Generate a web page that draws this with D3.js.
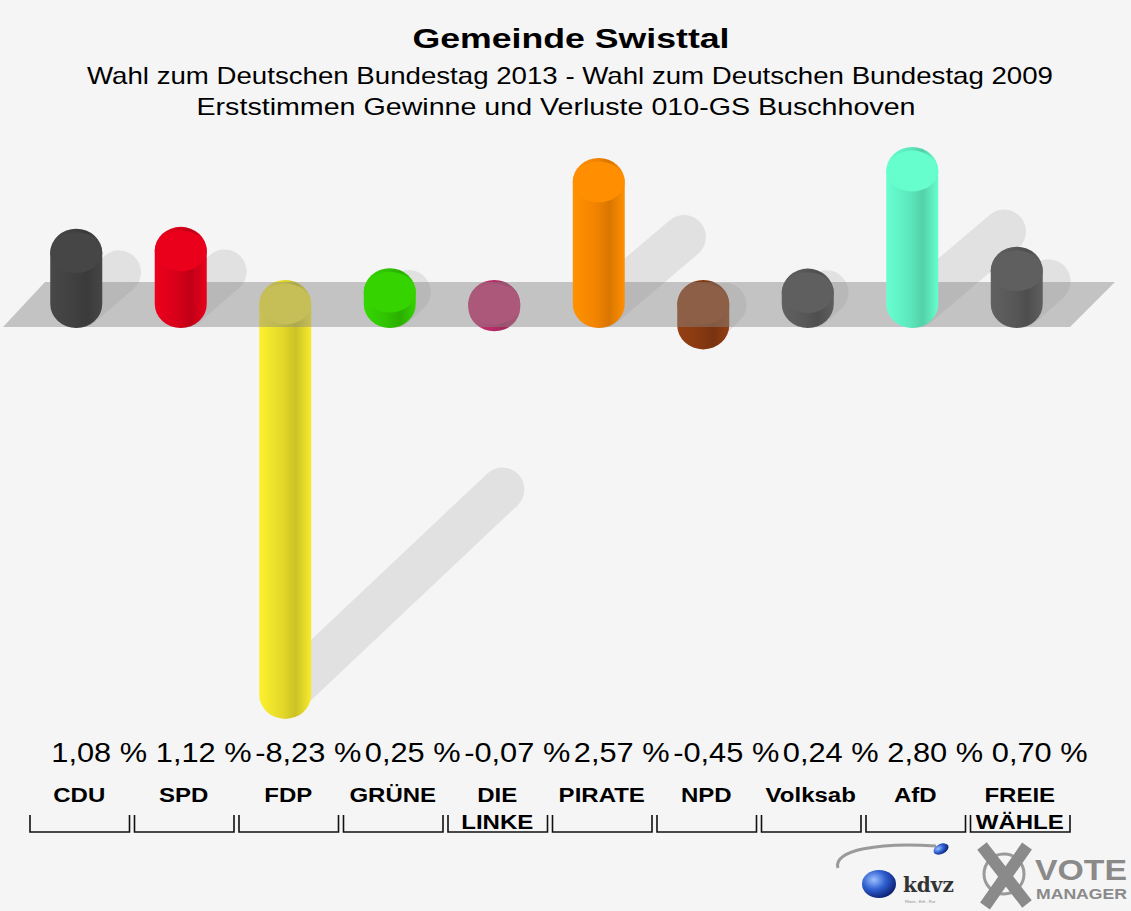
<!DOCTYPE html>
<html>
<head>
    <meta charset="utf-8">
    <title>Gemeinde Swisttal</title>
    <script src="https://d3js.org/d3.v7.min.js"></script>
    <style>
        body { margin: 0; background: #f5f5f5; }
        svg { display: block; font-family: "Liberation Sans", Arial, sans-serif; }
        .title { font-size: 28px; font-weight: bold; }
        .subtitle { font-size: 24px; }
        .value { font-size: 27px; }
        .cat { font-size: 20px; font-weight: bold; }
    </style>
</head>
<body>
    <svg width="1131" height="911"></svg>
    <script>
        // data
        var categories = ["CDU", "SPD", "FDP", "GRÜNE", "DIE LINKE", "PIRATE", "NPD", "Volksab", "AfD", "FREIE WÄHLE"];
        var labelLines = [["CDU"], ["SPD"], ["FDP"], ["GRÜNE"], ["DIE", "LINKE"], ["PIRATE"], ["NPD"], ["Volksab"], ["AfD"], ["FREIE", "WÄHLE"]];
        var values = [1.08, 1.12, -8.23, 0.25, -0.07, 2.57, -0.45, 0.24, 2.80, 0.70];
        var colors = ["#444444", "#e2001a", "#f0e42c", "#33cc00", "#c2306c", "#ff8a00", "#8e3c12", "#5c5c5c", "#62f5c6", "#5c5c5c"];

        var svg = d3.select("svg");
        var defs = svg.append("defs");

        svg.append("rect").attr("width", 1131).attr("height", 911).attr("fill", "#f5f5f5");

        // stretch text horizontally, the reference glyphs are wider than Arial
        function widen(sel, f) {
            sel.each(function() {
                var w = this.getComputedTextLength();
                d3.select(this).attr("textLength", w * f).attr("lengthAdjust", "spacingAndGlyphs");
            });
        }

        // titles
        svg.append("text").attr("class", "title").attr("x", 571).attr("y", 48)
            .attr("text-anchor", "middle").attr("textLength", 317).attr("lengthAdjust", "spacingAndGlyphs")
            .text("Gemeinde Swisttal");
        svg.append("text").attr("class", "subtitle").attr("x", 570).attr("y", 84)
            .attr("text-anchor", "middle").attr("textLength", 966).attr("lengthAdjust", "spacingAndGlyphs")
            .text("Wahl zum Deutschen Bundestag 2013 - Wahl zum Deutschen Bundestag 2009");
        svg.append("text").attr("class", "subtitle").attr("x", 556).attr("y", 115)
            .attr("text-anchor", "middle").attr("textLength", 719).attr("lengthAdjust", "spacingAndGlyphs")
            .text("Erststimmen Gewinne und Verluste 010-GS Buschhoven");

        var x = d3.scaleBand().domain(categories).range([27, 1072]).paddingInner(0);
        var y = d3.scaleLinear().domain([0, 1]).range([304, 256.5]);
        var rx = 26, ry = 24;
        var data = categories.map(function(c, i) {
            return {cat: c, value: values[i], color: colors[i], lines: labelLines[i], i: i};
        });
        function cx(d) { return x(d.cat) + x.bandwidth() / 2 - 3; }

        // gradients per bar
        data.forEach(function(d) {
            var c = d3.color(d.color);
            var g = defs.append("linearGradient").attr("id", "grad" + d.i)
                .attr("x1", "0%").attr("x2", "100%").attr("y1", "0%").attr("y2", "0%");
            g.append("stop").attr("offset", "0%").attr("stop-color", c.brighter(0.15));
            g.append("stop").attr("offset", "45%").attr("stop-color", c.darker(0.15));
            g.append("stop").attr("offset", "70%").attr("stop-color", c.darker(0.45));
            g.append("stop").attr("offset", "100%").attr("stop-color", c.brighter(0.1));
        });

        // shadows
        var shadow = svg.append("g").attr("fill", "none").attr("stroke", "#000")
            .attr("stroke-opacity", 0.08).attr("stroke-width", 44).attr("stroke-linecap", "round");
        data.forEach(function(d) {
            var h = Math.abs(y(d.value) - y(0));
            if (d.value > 0) {
                shadow.append("line")
                    .attr("x1", cx(d) + 4).attr("y1", y(0) + 2)
                    .attr("x2", cx(d) + 12 + h * 0.6).attr("y2", y(0) - 6 - h * 0.5);
            } else if (h > 10) {
                var yb = y(d.value);
                shadow.append("line")
                    .attr("x1", cx(d) + 10).attr("y1", yb - 10)
                    .attr("x2", cx(d) + 10 + h * 0.53).attr("y2", yb - 10 - h * 0.5);
            }
        });

        function drawBar(g, d) {
            var top = y(Math.max(d.value, 0)), bot = y(Math.min(d.value, 0));
            var c = cx(d);
            var path = "M" + (c - rx) + "," + top +
                " A" + rx + "," + ry + " 0 0 1 " + (c + rx) + "," + top +
                " L" + (c + rx) + "," + bot +
                " A" + rx + "," + ry + " 0 0 1 " + (c - rx) + "," + bot + " Z";
            g.append("path").attr("d", path).attr("fill", "url(#grad" + d.i + ")");
            g.append("ellipse").attr("cx", c).attr("cy", top).attr("rx", rx).attr("ry", ry * 0.85)
                .attr("fill", d3.color(d.color).brighter(0.1));
        }

        // negative bars behind the plane
        var back = svg.append("g");
        data.filter(function(d) { return d.value < 0; }).forEach(function(d) { drawBar(back, d); });

        // plane
        svg.append("path")
            .attr("d", "M45,282 L1115,282 L1070,327 L3,327 Z")
            .attr("fill", "#888").attr("fill-opacity", 0.45);

        var front = svg.append("g");
        data.filter(function(d) { return d.value >= 0; }).forEach(function(d) { drawBar(front, d); });

        // value labels
        svg.append("g").selectAll("text").data(data).enter().append("text")
            .attr("class", "value")
            .attr("x", function(d) { return cx(d) + 23; })
            .attr("y", 762)
            .attr("text-anchor", "middle")
            .text(function(d) { return d.value.toFixed(2).replace(".", ",") + " %"; })
            .call(widen, 1.14);

        // category labels
        var cat = svg.append("g").selectAll("g").data(data).enter().append("g");
        cat.append("text").attr("class", "cat")
            .attr("x", function(d) { return x(d.cat) + x.bandwidth() / 2; })
            .attr("y", 802)
            .attr("text-anchor", "middle")
            .selectAll("tspan").data(function(d) { return d.lines; }).enter().append("tspan")
            .attr("x", function() { var p = d3.select(this.parentNode).datum(); return x(p.cat) + x.bandwidth() / 2; })
            .attr("dy", function(l, j) { return j === 0 ? 0 : 27; })
            .text(function(l) { return l; })
            .call(widen, 1.2);

        // brackets
        cat.append("path")
            .attr("fill", "none").attr("stroke", "#111").attr("stroke-width", 1.6)
            .attr("d", function(d) {
                var l = x(d.cat) + 3, r = x(d.cat) + x.bandwidth() - 2;
                return "M" + l + ",815 L" + l + ",832 L" + r + ",832 L" + r + ",815";
            });

        // logos
        var logo = svg.append("g");
        var bg = defs.append("radialGradient").attr("id", "sphere").attr("cx", "35%").attr("cy", "35%").attr("r", "70%");
        bg.append("stop").attr("offset", "0%").attr("stop-color", "#9ec0ff");
        bg.append("stop").attr("offset", "50%").attr("stop-color", "#2f5fd0");
        bg.append("stop").attr("offset", "100%").attr("stop-color", "#0b1f70");
        logo.append("path").attr("d", "M838,868 C832,850 880,842 936,846")
            .attr("fill", "none").attr("stroke", "#9a9a9a").attr("stroke-width", 3);
        logo.append("ellipse").attr("cx", 941).attr("cy", 849).attr("rx", 8).attr("ry", 5)
            .attr("fill", "url(#sphere)").attr("transform", "rotate(-25,941,849)");
        logo.append("ellipse").attr("cx", 879).attr("cy", 884).attr("rx", 17).attr("ry", 14)
            .attr("fill", "url(#sphere)");
        logo.append("text").attr("x", 903).attr("y", 892).attr("font-family", "DejaVu Serif, serif")
            .attr("font-weight", "bold").attr("font-size", 20).attr("fill", "#333").text("kdvz");
        logo.append("text").attr("x", 905).attr("y", 903).attr("font-size", 4).attr("fill", "#888")
            .text("Rhein - Erft - Rur");
        logo.append("circle").attr("cx", 1004).attr("cy", 874).attr("r", 20)
            .attr("fill", "none").attr("stroke", "#9a9a9a").attr("stroke-width", 3);
        logo.append("path").attr("d", "M982,846 L1027,904 M1027,846 L985,906")
            .attr("stroke", "#8a8a8a").attr("stroke-width", 12).attr("stroke-linecap", "butt");
        logo.append("text").attr("x", 1035).attr("y", 880).attr("font-weight", "bold")
            .attr("font-size", 30).attr("fill", "#8a8a8a").attr("textLength", 92)
            .attr("lengthAdjust", "spacingAndGlyphs").text("VOTE");
        logo.append("text").attr("x", 1036).attr("y", 899).attr("font-weight", "bold")
            .attr("font-size", 14).attr("fill", "#8a8a8a").attr("textLength", 91)
            .attr("lengthAdjust", "spacingAndGlyphs").text("MANAGER");
    </script>
</body>
</html>
